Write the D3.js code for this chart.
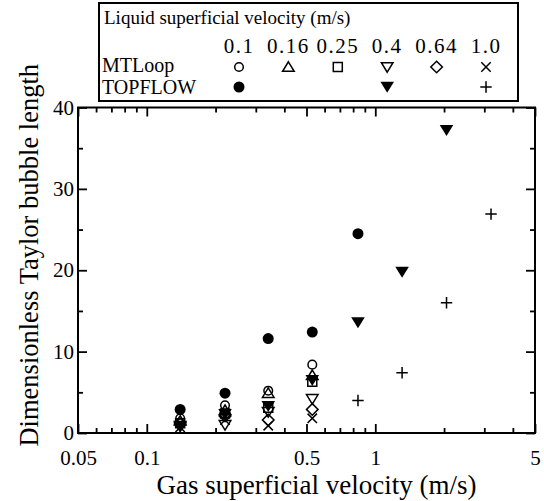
<!DOCTYPE html>
<html>
<head>
<meta charset="utf-8">
<script src="https://cdn.jsdelivr.net/npm/d3@7"></script>
<style>
  body { margin: 0; background: #fff; }
  text { font-family: "Liberation Serif", "DejaVu Serif", serif; fill: #000; }
</style>
</head>
<body>
<svg id="chart" width="544" height="501"></svg>
<script>
// Gas superficial velocity (m/s) of each measurement group
const mtGas = [0.14, 0.22, 0.34, 0.53];
// MTLoop, one array per liquid superficial velocity
const mtL010 = [1.8, 3.4, 5.2, 8.4];
const mtL016 = [1.5, 2.8, 4.9, 7.1];
const mtL025 = [1.2, 2.4, 3.1, 6.3];
const mtL040 = [0.9, 1.0, 2.6, 4.2];
const mtL064 = [1.1, 2.1, 1.6, 2.9];
const mtL100 = [0.7, 1.6, 0.9, 1.8];

// TOPFLOW
const tfGas010 = [0.14, 0.22, 0.34, 0.53, 0.84];
const tfL010 = [2.9, 4.9, 11.6, 12.4, 24.5];
const tfGas040 = [0.14, 0.22, 0.34, 0.53, 0.84, 1.31, 2.05];
const tfL040 = [0.7, 2.3, 3.3, 6.5, 13.6, 19.8, 37.2];
const tfGas100 = [0.84, 1.31, 2.05, 3.21];
const tfL100 = [4.0, 7.4, 16.0, 26.9];

const liquidLabels = ['0.1', '0.16', '0.25', '0.4', '0.64', '1.0'];
const xMajor = [0.05, 0.1, 0.5, 1, 5];
const xMinor = [0.06, 0.07, 0.08, 0.09, 0.2, 0.3, 0.4, 0.6, 0.7, 0.8, 0.9, 2, 3, 4];
const yMajor = [0, 10, 20, 30, 40];
const yMinor = [5, 15, 25, 35];

const svg = d3.select('#chart');
const margin = { top: 107.5, right: 9, bottom: 68, left: 78 };
const W = 544 - margin.left - margin.right;
const H = 501 - margin.top - margin.bottom;

const g = svg.append('g').attr('transform', `translate(${margin.left},${margin.top})`);

const x = d3.scaleLog().domain([0.05, 5]).range([0, W]);
const y = d3.scaleLinear().domain([0, 40]).range([H, 0]);

// marker shapes
function marker(sel, type) {
    const k = 1.5;
    if (type === 'circle') {
        sel.append('circle').attr('r', 4.3).attr('fill', 'none').attr('stroke', '#000').attr('stroke-width', k);
    } else if (type === 'fcircle') {
        sel.append('circle').attr('r', 5.5).attr('fill', '#000');
    } else if (type === 'tri') {
        sel.append('path').attr('d', 'M0,-5.2L5.8,4.3L-5.8,4.3Z').attr('fill', 'none').attr('stroke', '#000').attr('stroke-width', k);
    } else if (type === 'square') {
        sel.append('rect').attr('x', -4.5).attr('y', -4.5).attr('width', 9).attr('height', 9)
            .attr('fill', 'none').attr('stroke', '#000').attr('stroke-width', k);
    } else if (type === 'dtri') {
        sel.append('path').attr('d', 'M0,5.2L5.8,-4.3L-5.8,-4.3Z').attr('fill', 'none').attr('stroke', '#000').attr('stroke-width', k);
    } else if (type === 'fdtri') {
        sel.append('path').attr('d', 'M0,5.8L6.8,-5.2L-6.8,-5.2Z').attr('fill', '#000');
    } else if (type === 'diamond') {
        sel.append('path').attr('d', 'M0,-5.8L5.8,0L0,5.8L-5.8,0Z').attr('fill', 'none').attr('stroke', '#000').attr('stroke-width', k);
    } else if (type === 'x') {
        sel.append('path').attr('d', 'M-4.7,-4.7L4.7,4.7M-4.7,4.7L4.7,-4.7').attr('stroke', '#000').attr('stroke-width', k);
    } else if (type === 'plus') {
        sel.append('path').attr('d', 'M-5.7,0L5.7,0M0,-5.7L0,5.7').attr('stroke', '#000').attr('stroke-width', k);
    }
}

const series = [
    { gas: mtGas, val: mtL010, type: 'circle' },
    { gas: mtGas, val: mtL016, type: 'tri' },
    { gas: mtGas, val: mtL025, type: 'square' },
    { gas: mtGas, val: mtL040, type: 'dtri' },
    { gas: mtGas, val: mtL064, type: 'diamond' },
    { gas: mtGas, val: mtL100, type: 'x' },
    { gas: tfGas010, val: tfL010, type: 'fcircle' },
    { gas: tfGas040, val: tfL040, type: 'fdtri' },
    { gas: tfGas100, val: tfL100, type: 'plus' }
];

// Axes: major + minor ticks, pointing inward on all four sides
function styleAxis(a) {
    a.select('.domain').remove();
    a.selectAll('line').attr('stroke', '#000').attr('stroke-width', 1.8);
    a.selectAll('text').attr('font-size', 21).attr('font-family', '"Liberation Serif", serif');
}

g.append('g').attr('transform', `translate(0,${H})`)
    .call(d3.axisBottom(x).tickValues(xMajor).tickSize(-9).tickPadding(17).tickFormat(d3.format('')))
    .call(styleAxis);
g.append('g').attr('transform', `translate(0,${H})`)
    .call(d3.axisBottom(x).tickValues(xMinor).tickSize(-5).tickFormat(''))
    .call(styleAxis);
g.append('g')
    .call(d3.axisTop(x).tickValues(xMajor).tickSize(-9).tickFormat(''))
    .call(styleAxis);
g.append('g')
    .call(d3.axisTop(x).tickValues(xMinor).tickSize(-5).tickFormat(''))
    .call(styleAxis);

g.append('g')
    .call(d3.axisLeft(y).tickValues(yMajor).tickSize(-9).tickPadding(4).tickFormat(d3.format('d')))
    .call(styleAxis);
g.append('g')
    .call(d3.axisLeft(y).tickValues(yMinor).tickSize(-5).tickFormat(''))
    .call(styleAxis);
g.append('g').attr('transform', `translate(${W},0)`)
    .call(d3.axisRight(y).tickValues(yMajor).tickSize(-9).tickFormat(''))
    .call(styleAxis);
g.append('g').attr('transform', `translate(${W},0)`)
    .call(d3.axisRight(y).tickValues(yMinor).tickSize(-5).tickFormat(''))
    .call(styleAxis);

// frame
g.append('rect').attr('width', W).attr('height', H)
    .attr('fill', 'none').attr('stroke', '#000').attr('stroke-width', 2);

// points
series.forEach(s => {
    g.append('g').selectAll('g')
        .data(s.gas.map((v, i) => ({ gas: v, val: s.val[i] })))
        .enter().append('g')
        .attr('transform', d => `translate(${x(d.gas)},${y(d.val)})`)
        .each(function () { marker(d3.select(this), s.type); });
});

// axis titles
svg.append('text')
    .attr('x', margin.left + W / 2 + 10).attr('y', 494)
    .attr('text-anchor', 'middle').attr('font-size', 27)
    .text('Gas superficial velocity (m/s)');
svg.append('text')
    .attr('transform', `translate(38,${margin.top + H / 2 - 15}) rotate(-90)`)
    .attr('text-anchor', 'middle').attr('font-size', 26.5)
    .text('Dimensionless Taylor bubble length');

// legend
const lg = svg.append('g');
lg.append('rect').attr('x', 99).attr('y', 3).attr('width', 419).attr('height', 98)
    .attr('fill', '#fff').attr('stroke', '#000').attr('stroke-width', 2);
lg.append('text').attr('x', 104).attr('y', 24).attr('font-size', 19)
    .text('Liquid superficial velocity (m/s)');
lg.append('text').attr('x', 102).attr('y', 72).attr('font-size', 20).text('MTLoop');
lg.append('text').attr('x', 102).attr('y', 94).attr('font-size', 20).text('TOPFLOW');

const colX = d3.scalePoint().domain(liquidLabels).range([239, 486]);
const mtTypes = ['circle', 'tri', 'square', 'dtri', 'diamond', 'x'];
const tfTypes = ['fcircle', null, null, 'fdtri', null, 'plus'];
liquidLabels.forEach((lab, i) => {
    lg.append('text').attr('x', colX(lab)).attr('y', 53).attr('text-anchor', 'middle')
        .attr('font-size', 21).attr('letter-spacing', 1.5).text(lab);
    marker(lg.append('g').attr('transform', `translate(${colX(lab)},67)`), mtTypes[i]);
    if (tfTypes[i]) marker(lg.append('g').attr('transform', `translate(${colX(lab)},87)`), tfTypes[i]);
});
</script>
</body>
</html>
